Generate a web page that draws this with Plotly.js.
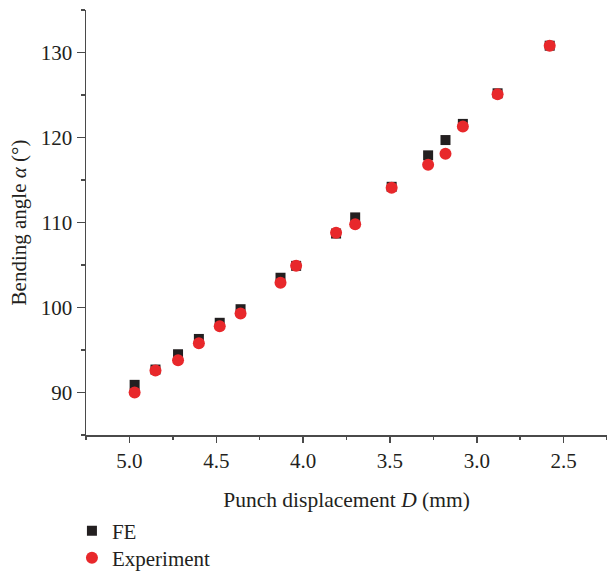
<!DOCTYPE html>
<html><head><meta charset="utf-8">
<script src="https://cdn.plot.ly/plotly-3.0.1.min.js"></script>
<style>html,body{margin:0;padding:0;background:#fff;overflow:hidden}</style>
</head><body>
<div id="chart" style="width:607px;height:585px"></div>
<script>
const displacement = [4.97, 4.85, 4.72, 4.60, 4.48, 4.36, 4.13, 4.04, 3.81, 3.70, 3.49, 3.28, 3.18, 3.08, 2.88, 2.58];
const angleFE = [90.9, 92.7, 94.5, 96.3, 98.2, 99.8, 103.5, 104.9, 108.7, 110.6, 114.2, 117.9, 119.7, 121.6, 125.2, 130.8];
const angleExp = [90.0, 92.6, 93.8, 95.8, 97.8, 99.3, 102.9, 104.9, 108.8, 109.8, 114.1, 116.8, 118.1, 121.3, 125.1, 130.8];
const seriesNames = ["FE", "Experiment"];
const xTickVals = [5.0, 4.5, 4.0, 3.5, 3.0, 2.5];
const xTickText = ["5.0", "4.5", "4.0", "3.5", "3.0", "2.5"];
const yTickVals = [90, 100, 110, 120, 130];

const font = "'Liberation Serif', 'DejaVu Serif', serif";
const ink = "#231f20";
const axisCol = "#4a4a4a";

const traces = [
  {x: displacement, y: angleFE, name: seriesNames[0], type: "scatter", mode: "markers", legend: "legend",
   marker: {symbol: "square", size: 10, color: ink}},
  {x: displacement, y: angleExp, name: seriesNames[1], type: "scatter", mode: "markers", legend: "legend2",
   marker: {symbol: "circle", size: 12, color: "#e8282b"}}
];

const legendCommon = {xanchor: "left", yanchor: "middle",
  font: {size: 21, family: font, color: ink}, bgcolor: "rgba(0,0,0,0)", borderwidth: 0};

const layout = {
  width: 607, height: 585,
  margin: {l: 86, r: 0, t: 10, b: 150},
  paper_bgcolor: "#fff", plot_bgcolor: "#fff",
  font: {family: font, color: ink, size: 21},
  showlegend: true,
  legend: Object.assign({}, legendCommon, {x: -0.027, y: (435 - 531) / 425}),
  legend2: Object.assign({}, legendCommon, {x: -0.027, y: (435 - 558) / 425}),
  xaxis: {
    range: [5.25, 2.25], tickvals: xTickVals, ticktext: xTickText,
    showgrid: false, zeroline: false, showline: true, linecolor: axisCol, linewidth: 1.5,
    ticks: "outside", ticklen: 6, tickwidth: 1.5, tickcolor: axisCol,
    minor: {dtick: 0.25, tick0: 0, ticks: "outside", ticklen: 3, tickwidth: 1.5, tickcolor: axisCol, showgrid: false},
    tickfont: {size: 21, family: font, color: ink},
    title: {text: "Punch displacement <i>D</i> (mm)", font: {size: 21.5, family: font, color: ink}, standoff: 20}
  },
  yaxis: {
    range: [85, 135], tickvals: yTickVals,
    showgrid: false, zeroline: false, showline: true, linecolor: axisCol, linewidth: 1.5,
    ticks: "outside", ticklen: 8, tickwidth: 1.5, tickcolor: axisCol,
    minor: {dtick: 5, tick0: 0, ticks: "outside", ticklen: 4, tickwidth: 1.5, tickcolor: axisCol, showgrid: false},
    tickfont: {size: 21, family: font, color: ink},
    title: {text: "Bending angle <i>α</i> (°)", font: {size: 21, family: font, color: ink}, standoff: 8}
  }
};

Plotly.newPlot("chart", traces, layout, {displayModeBar: false, staticPlot: true});
</script>
</body></html>
